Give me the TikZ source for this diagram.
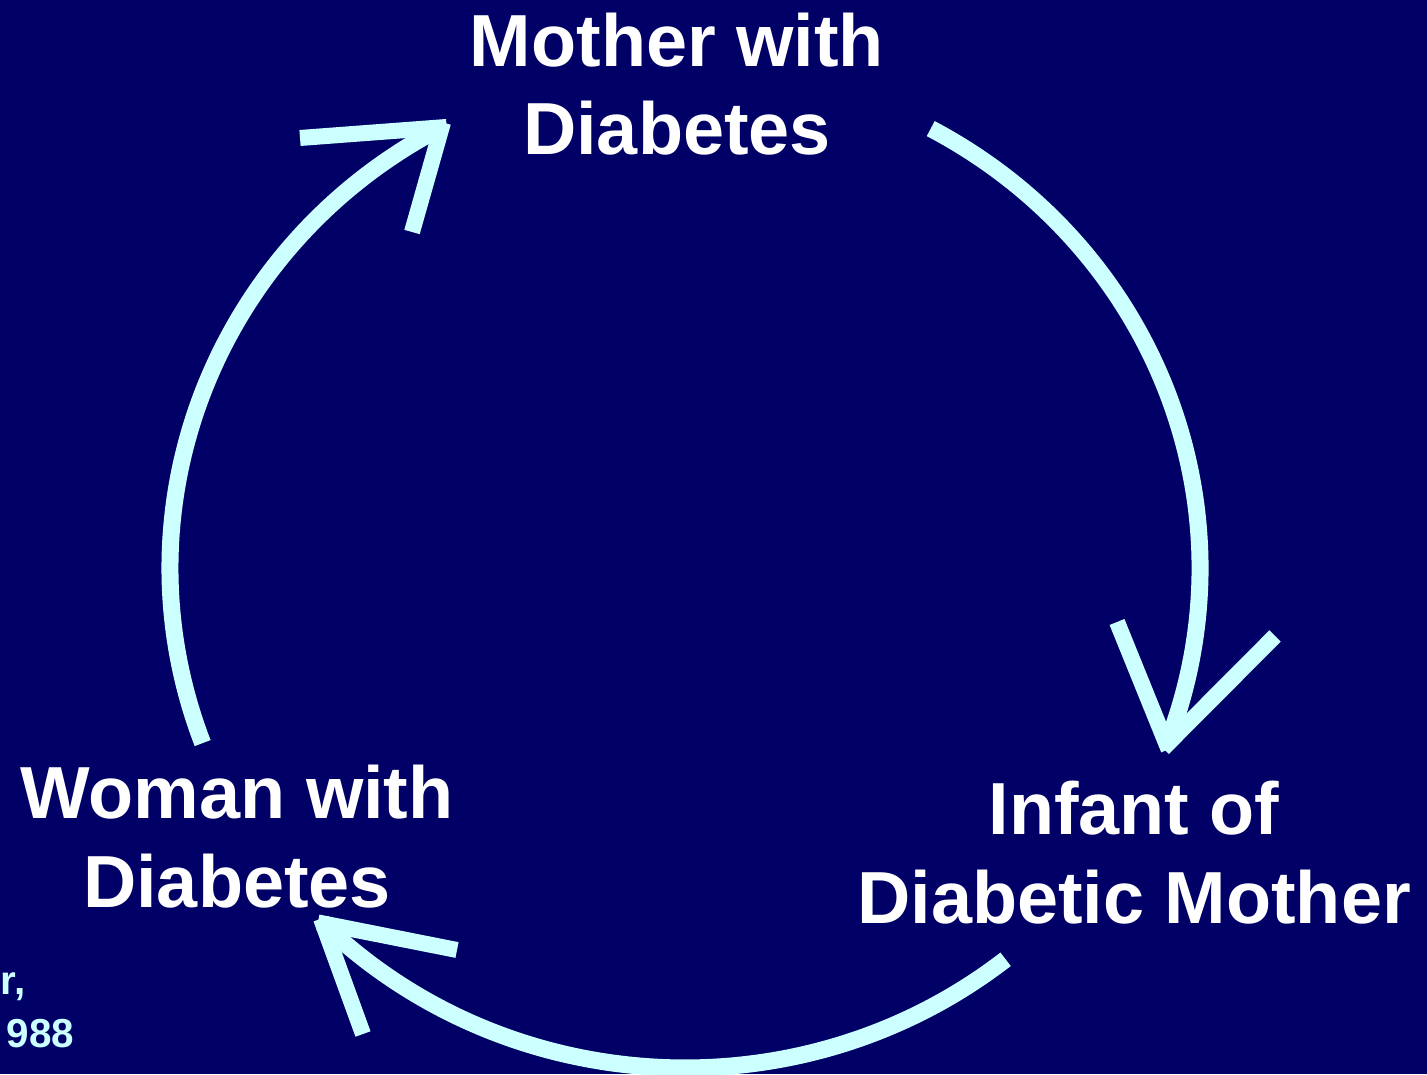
\documentclass[tikz,border=0pt]{standalone}
\usepackage{fontspec}
\setmainfont{Liberation Sans}
\usetikzlibrary{calc}
\definecolor{Navy}{RGB}{0,0,102}
\definecolor{IceCyan}{RGB}{204,255,255}
\tikzset{
  stage/.style={align=center,text=white,font=\bfseries\fontsize{21}{25.3}\selectfont,inner sep=0pt},
  note/.style={text=IceCyan,font=\bfseries\fontsize{11.5}{14}\selectfont,inner sep=0pt},
  flow/.style={line width=0.17cm,draw=IceCyan,line cap=butt},
  barbline/.style={line width=0.16cm,draw=IceCyan,line cap=butt,shorten >=-0.05cm}
}
\begin{document}
\begin{tikzpicture}[x=1cm,y=1cm]
  \fill[Navy] (0,0) rectangle (14.27,10.74);
  \useasboundingbox (0,0) rectangle (14.27,10.74);
  \node[stage,anchor=base] (mother) at (6.77,9.19) {Mother with\\Diabetes};
  \node[stage,anchor=base] (infant) at (11.34,1.51) {Infant of\\Diabetic Mother};
  \node[stage,anchor=base] (woman) at (2.37,1.67) {Woman with\\Diabetes};
  \node[note,anchor=base west] (citeA) at (0,0.80) {r,};
  \node[note,anchor=base west] (citeB) at (0.06,0.27) {988};
  % cycle arcs
  \coordinate (ctr) at (6.85,5.06);
  \coordinate (topEnd) at ($(ctr)+(61.5:5.15 and 5.0)$);
  \coordinate (rightTip) at ($(ctr)+(-20.7:5.15 and 5.0)$);
  \coordinate (bottomEnd) at ($(ctr)+(-51.5:5.15 and 5.0)$);
  \coordinate (bottomTip) at ($(ctr)+(-134.7:5.15 and 5.0)$);
  \coordinate (leftEnd) at ($(ctr)+(200.5:5.15 and 5.0)$);
  \coordinate (leftTip) at ($(ctr)+(118.2:5.15 and 5.0)$);
  \draw[flow] (topEnd) arc[start angle=61.5,end angle=-20.7,x radius=5.15,y radius=5.0];
  \draw[flow] (bottomEnd) arc[start angle=-51.5,end angle=-134.7,x radius=5.15,y radius=5.0];
  \draw[flow] (leftEnd) arc[start angle=200.5,end angle=118.2,x radius=5.15,y radius=5.0];
  % open arrow heads
  \coordinate (rb1) at (11.17,4.52); \coordinate (rb2) at (12.75,4.38);
  \coordinate (bb1) at (3.63,0.40); \coordinate (bb2) at (4.57,1.24);
  \coordinate (lb1) at (3.00,9.36); \coordinate (lb2) at (4.12,8.42);
  \draw[barbline] (rb1)--(rightTip); \draw[barbline] (rb2)--(rightTip);
  \draw[barbline] (bb1)--(bottomTip); \draw[barbline] (bb2)--(bottomTip);
  \draw[barbline] (lb1)--(leftTip); \draw[barbline] (lb2)--(leftTip);
\end{tikzpicture}
\end{document}
